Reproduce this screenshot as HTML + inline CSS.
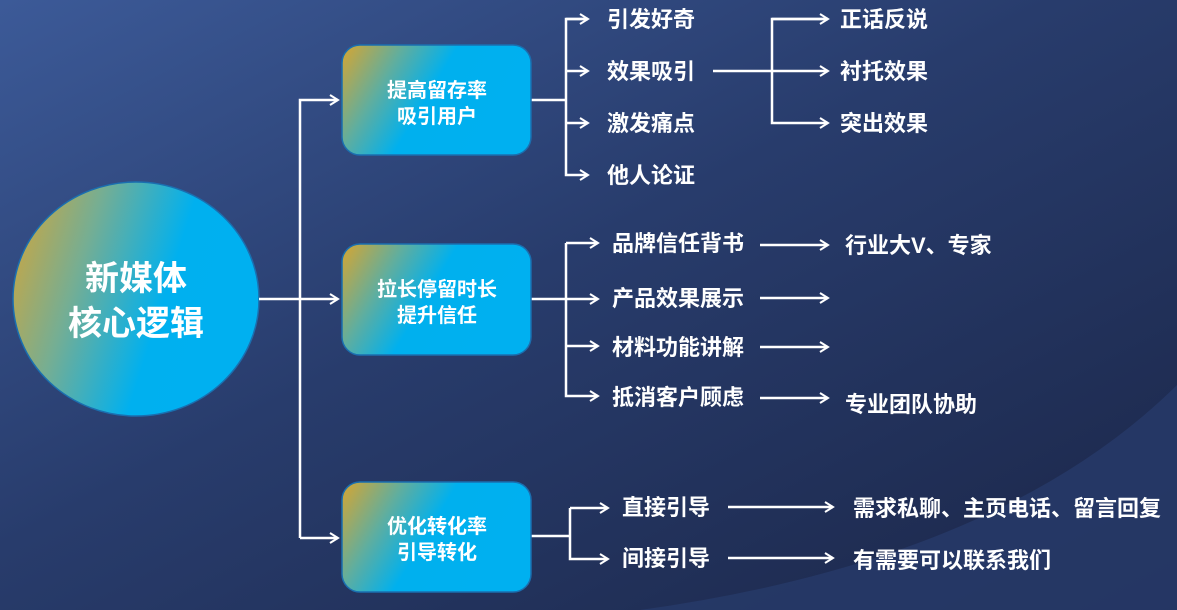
<!DOCTYPE html>
<html><head><meta charset="utf-8"><style>
html,body{margin:0;padding:0;width:1177px;height:610px;overflow:hidden;background:#1f2b50}
svg{display:block}
text{font-family:"Liberation Sans","Noto Sans CJK SC",sans-serif;font-weight:bold;fill:#fff}
</style></head><body>
<svg width="1177" height="610" viewBox="0 0 1177 610" xmlns="http://www.w3.org/2000/svg">
<defs>
<linearGradient id="bg" x1="0" y1="0" x2="1" y2="1">
<stop offset="0" stop-color="#3c5a98"/><stop offset="0.45" stop-color="#283c6c"/><stop offset="1" stop-color="#1b2648"/>
</linearGradient>
<linearGradient id="nd" x1="0" y1="0" x2="1" y2="0.35">
<stop offset="0" stop-color="#d8a530"/><stop offset="0.3" stop-color="#5eaea0"/><stop offset="0.55" stop-color="#00b0ee"/><stop offset="1" stop-color="#00b0f0"/>
</linearGradient>
<linearGradient id="cg" x1="0" y1="0" x2="1" y2="0.3">
<stop offset="0" stop-color="#d8a535"/><stop offset="0.35" stop-color="#74ae94"/><stop offset="0.7" stop-color="#00b0ef"/><stop offset="1" stop-color="#00b0f0"/>
</linearGradient>
<marker id="a" markerWidth="12" markerHeight="12" refX="10" refY="6" orient="auto" markerUnits="userSpaceOnUse">
<path d="M2,1 L10,6 L2,11" fill="none" stroke="#fff" stroke-width="2"/>
</marker>
</defs>
<rect width="1177" height="610" fill="url(#bg)"/>
<path d="M640,610 Q1000,560 1177,385 L1177,610 Z" fill="#273968" opacity="0.85"/>
<ellipse cx="136" cy="299" rx="123" ry="117" fill="url(#cg)" stroke="#1a6fb0" stroke-width="1.5"/>
<text x="136" y="290" font-size="34" text-anchor="middle">新媒体</text>
<text x="136" y="335" font-size="34" text-anchor="middle">核心逻辑</text>
<g stroke="#fff" stroke-width="2.5" fill="none">
<path d="M259,299 H300"/>
<path d="M300,538 V100 H338" marker-end="url(#a)"/>
<path d="M300,299 H338" marker-end="url(#a)"/>
<path d="M300,538 H338" marker-end="url(#a)"/>
<path d="M531,100 H566"/><path d="M588,19 H566 V175 H588" marker-end="url(#a)"/>
<path d="M566,19 H588" marker-end="url(#a)"/><path d="M566,71 H588" marker-end="url(#a)"/><path d="M566,123 H588" marker-end="url(#a)"/>
<path d="M713,71 H828" marker-end="url(#a)"/><path d="M828,19 H772 V123 H828" marker-end="url(#a)"/>
<path d="M772,19 H828" marker-end="url(#a)"/>
<path d="M531,299 H566"/><path d="M566,243 V396 H598" marker-end="url(#a)"/>
<path d="M566,243 H598" marker-end="url(#a)"/><path d="M566,299 H598" marker-end="url(#a)"/><path d="M566,346 H598" marker-end="url(#a)"/>
<path d="M760,245 H828" marker-end="url(#a)"/><path d="M760,298 H828" marker-end="url(#a)"/><path d="M760,347 H828" marker-end="url(#a)"/><path d="M760,398 H828" marker-end="url(#a)"/>
<path d="M531,536 H570"/><path d="M570,508 V559 H608" marker-end="url(#a)"/>
<path d="M570,508 H608" marker-end="url(#a)"/>
<path d="M728,507 H833" marker-end="url(#a)"/><path d="M728,558 H833" marker-end="url(#a)"/>
</g>
<g stroke="#1a6fb0" stroke-width="1.5">
<rect x="342" y="45" width="189" height="110" rx="18" fill="url(#nd)"/>
<rect x="342" y="244" width="189" height="111" rx="18" fill="url(#nd)"/>
<rect x="342" y="482" width="189" height="110" rx="18" fill="url(#nd)"/>
</g>
<g font-size="20" text-anchor="middle">
<text x="437" y="97">提高留存率</text><text x="437" y="123">吸引用户</text>
<text x="437" y="296">拉长停留时长</text><text x="437" y="322">提升信任</text>
<text x="437" y="533">优化转化率</text><text x="437" y="559">引导转化</text>
</g>
<g font-size="22">
<text x="607" y="27">引发好奇</text><text x="607" y="79">效果吸引</text><text x="607" y="131">激发痛点</text><text x="607" y="183">他人论证</text>
<text x="840" y="27">正话反说</text><text x="840" y="79">衬托效果</text><text x="840" y="131">突出效果</text>
<text x="612" y="251">品牌信任背书</text><text x="612" y="306">产品效果展示</text><text x="612" y="355">材料功能讲解</text><text x="612" y="405">抵消客户顾虑</text>
<text x="845" y="253">行业大V、专家</text><text x="845" y="412">专业团队协助</text>
<text x="622" y="515">直接引导</text><text x="622" y="566">间接引导</text>
<text x="853" y="516">需求私聊、主页电话、留言回复</text><text x="853" y="568">有需要可以联系我们</text>
</g>
</svg>
</body></html>
